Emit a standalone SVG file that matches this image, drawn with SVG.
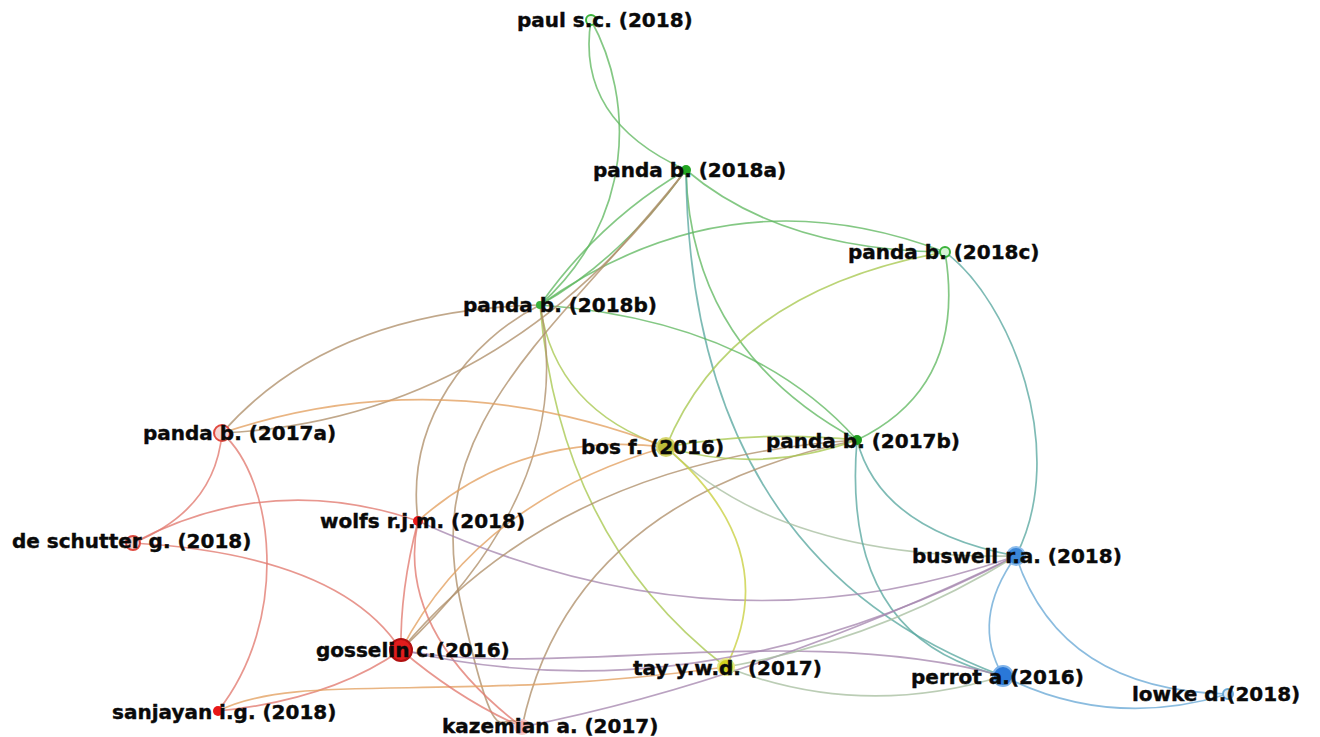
<svg xmlns="http://www.w3.org/2000/svg" width="1320" height="737" viewBox="0 0 1320 737">
<style>
.e{fill:none;stroke-width:1.7;stroke-opacity:.78;stroke-linecap:round}
.gr{stroke:#62b862}.rd{stroke:#e27a70}.bl{stroke:#6aa9d6}.yl{stroke:#c9d040}
.rg{stroke:#b0906a}.gb{stroke:#5aa8a0}.rb{stroke:#a688b0}.yg{stroke:#a8c850}.ry{stroke:#e3a060}.yb{stroke:#a8bfa0}
.lbl{font-family:"DejaVu Sans",Verdana,sans-serif;font-weight:bold;font-size:20px;fill:#0a0a0a;stroke:#0a0a0a;stroke-width:0.4}
</style>
<rect width="1320" height="737" fill="#ffffff"/>
<g id="connectors">
<path class="e gr" d="M591,20 Q575,120 686,170"/>
<path class="e gr" d="M591,20 C635,100 635,220 540,305"/>
<path class="e gr" d="M686,170 Q620,260 540,305"/>
<path class="e gr" d="M686,170 Q600,220 540,305"/>
<path class="e gr" d="M686,170 Q780,250 945,252"/>
<path class="e gr" d="M540,305 Q730,170 945,252"/>
<path class="e gr" d="M686,170 Q690,350 857,440"/>
<path class="e gb" d="M686,170 Q690,560 1003,676"/>
<path class="e gr" d="M945,252 C958,330 940,400 857,440"/>
<path class="e gb" d="M945,252 C1010,300 1070,450 1016,556"/>
<path class="e yg" d="M945,252 Q730,290 666,447"/>
<path class="e gr" d="M540,305 Q750,320 857,440"/>
<path class="e yg" d="M540,305 Q555,410 666,447"/>
<path class="e yg" d="M540,305 Q560,540 726,667"/>
<path class="e rg" d="M540,305 C470,340 405,420 418,521"/>
<path class="e rg" d="M686,170 C560,330 420,420 460,600 S500,700 522,727"/>
<path class="e rg" d="M540,305 C560,400 540,520 401,650"/>
<path class="e rg" d="M540,305 Q330,310 222,433"/>
<path class="e rg" d="M686,170 Q500,420 222,433"/>
<path class="e ry" d="M222,433 Q440,360 666,447"/>
<path class="e rd" d="M222,433 Q215,510 133,543"/>
<path class="e rd" d="M222,433 C275,480 290,620 218,711"/>
<path class="e rd" d="M133,543 Q270,470 418,521"/>
<path class="e rd" d="M133,543 Q340,555 401,650"/>
<path class="e rb" d="M418,521 Q720,660 1016,556"/>
<path class="e ry" d="M418,521 Q520,430 666,447"/>
<path class="e rd" d="M418,521 Q395,630 522,727"/>
<path class="e rd" d="M418,521 Q400,590 401,650"/>
<path class="e ry" d="M401,650 Q480,500 666,447"/>
<path class="e rg" d="M401,650 Q560,460 857,440"/>
<path class="e rg" d="M522,727 Q570,500 857,440"/>
<path class="e yg" d="M666,447 Q760,475 857,440"/>
<path class="e yg" d="M666,447 Q760,430 857,440"/>
<path class="e yb" d="M666,447 Q780,560 1016,556"/>
<path class="e yl" d="M666,447 Q785,550 726,667"/>
<path class="e gb" d="M857,440 Q880,530 1016,556"/>
<path class="e gb" d="M857,440 Q840,640 1003,676"/>
<path class="e bl" d="M1016,556 Q970,620 1003,676"/>
<path class="e bl" d="M1016,556 Q1060,690 1228,694"/>
<path class="e bl" d="M1003,676 Q1110,730 1228,694"/>
<path class="e rb" d="M522,727 Q760,680 1016,556"/>
<path class="e rb" d="M401,650 C550,680 800,620 1003,676"/>
<path class="e rb" d="M401,650 Q700,720 1016,556"/>
<path class="e rd" d="M218,711 Q330,700 401,650"/>
<path class="e ry" d="M218,711 C300,670 450,705 726,667"/>
<path class="e yb" d="M726,667 Q860,720 1003,676"/>
<path class="e yb" d="M726,667 Q880,640 1016,556"/>
<path class="e rd" d="M401,650 Q460,700 522,727"/>
</g>
<g id="n-paul"><circle cx="591" cy="20" r="5" fill="#e8f7e8" stroke="#3cb33c" stroke-width="2"/><text class="lbl" x="517" y="27">paul s.c. (2018)</text></g>
<g id="n-panda2018a"><circle cx="686" cy="170" r="5" fill="#22a522"/><text class="lbl" x="593" y="177">panda b. (2018a)</text></g>
<g id="n-panda2018c"><circle cx="945" cy="252" r="5" fill="#d8f3d8" stroke="#3cb33c" stroke-width="2"/><text class="lbl" x="848" y="259">panda b. (2018c)</text></g>
<g id="n-panda2018b"><circle cx="540" cy="305" r="4" fill="#3cb33c"/><text class="lbl" x="463" y="312">panda b. (2018b)</text></g>
<g id="n-panda2017a"><circle cx="222" cy="433" r="8" fill="#f6d6d6" stroke="#e04a40" stroke-width="2"/><text class="lbl" x="143" y="440">panda b. (2017a)</text></g>
<g id="n-bos"><circle cx="666" cy="447" r="9" fill="#bcbc3a" stroke="#d6d670" stroke-width="2"/><text class="lbl" x="581" y="454">bos f. (2016)</text></g>
<g id="n-panda2017b"><circle cx="857" cy="440" r="5" fill="#1e9a1e"/><text class="lbl" x="766" y="448">panda b. (2017b)</text></g>
<g id="n-wolfs"><circle cx="418" cy="521" r="5" fill="#e81818"/><text class="lbl" x="320" y="528">wolfs r.j.m. (2018)</text></g>
<g id="n-deschutter"><circle cx="133" cy="543" r="7" fill="#f6d0d0" stroke="#e04a40" stroke-width="2"/><text class="lbl" x="12" y="548">de schutter g. (2018)</text></g>
<g id="n-buswell"><circle cx="1016" cy="556" r="9" fill="#3a86d8" stroke="#8cbcec" stroke-width="2"/><text class="lbl" x="912" y="563">buswell r.a. (2018)</text></g>
<g id="n-gosselin"><circle cx="401" cy="650" r="11" fill="#e01c1c" stroke="#b01010" stroke-width="2"/><text class="lbl" x="316" y="657">gosselin c.(2016)</text></g>
<g id="n-tay"><circle cx="726" cy="667" r="8" fill="#d2d220" stroke="#e6e680" stroke-width="2"/><text class="lbl" x="633" y="675">tay y.w.d. (2017)</text></g>
<g id="n-perrot"><circle cx="1003" cy="676" r="10" fill="#2a78d8" stroke="#7fb3ea" stroke-width="2"/><text class="lbl" x="911" y="684">perrot a.(2016)</text></g>
<g id="n-lowke"><circle cx="1228" cy="694" r="5" fill="#dcebf8" stroke="#6aa9d6" stroke-width="2"/><text class="lbl" x="1132" y="701">lowke d.(2018)</text></g>
<g id="n-sanjayan"><circle cx="218" cy="711" r="5" fill="#e81818"/><text class="lbl" x="112" y="719">sanjayan i.g. (2018)</text></g>
<g id="n-kazemian"><circle cx="522" cy="727" r="7" fill="#f3a8a8" stroke="#f6c8c8" stroke-width="2"/><text class="lbl" x="442" y="733">kazemian a. (2017)</text></g>
</svg>
